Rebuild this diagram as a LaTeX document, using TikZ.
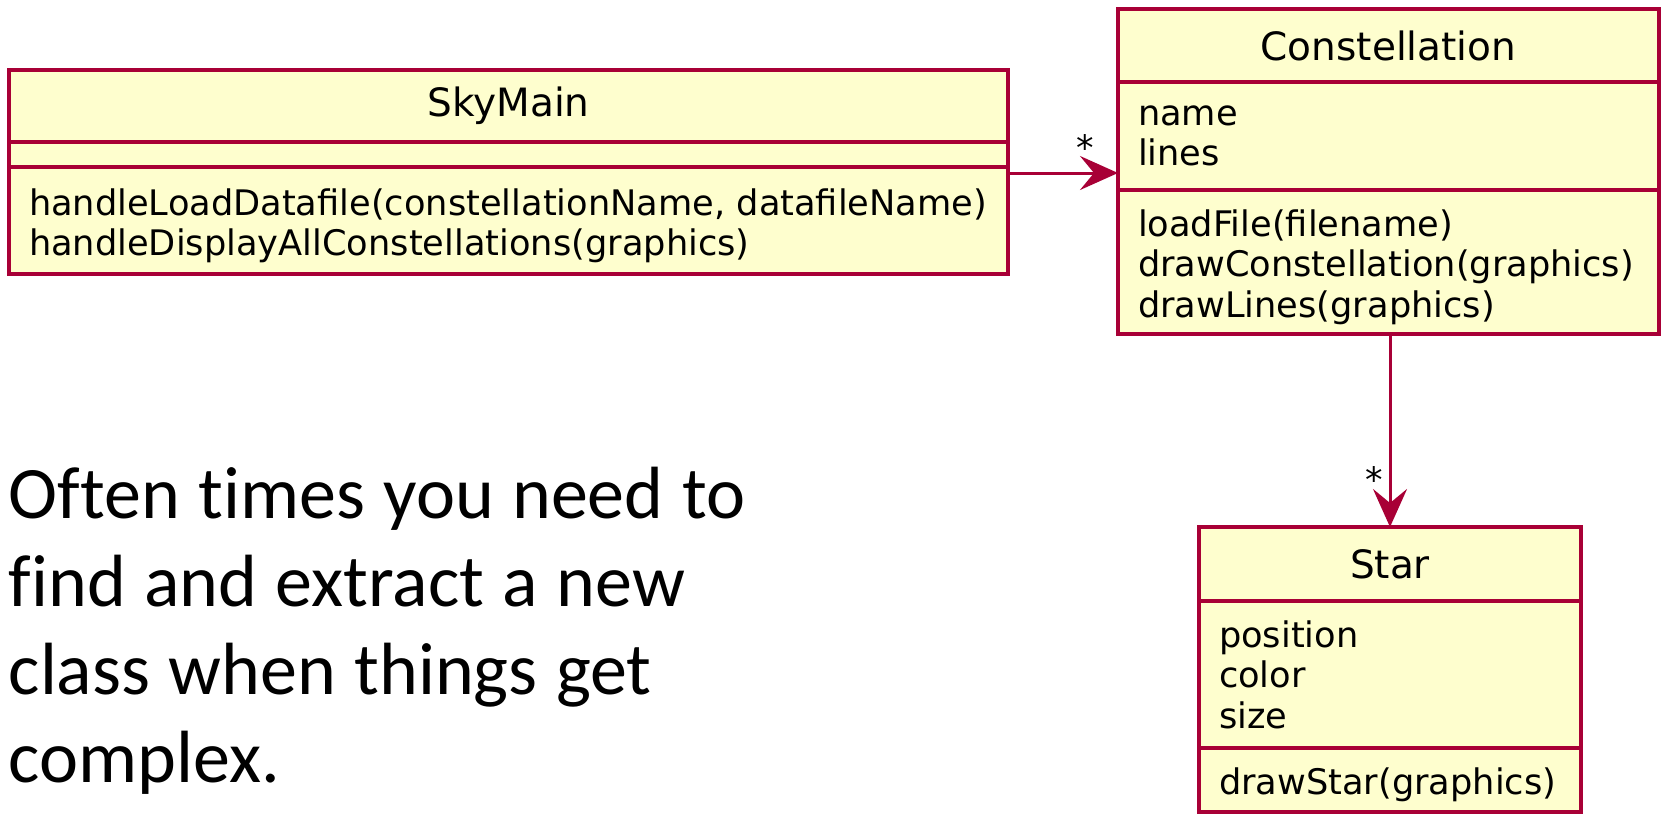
\documentclass[tikz,border=0pt]{standalone}
\usepackage{fontspec}
\usepackage{xcolor}
\usepackage{tikz}
\usetikzlibrary{arrows.meta}
\usetikzlibrary{positioning}
\newfontfamily\umlfont{DejaVu Sans}
\newfontfamily\notefont[Ligatures=CommonOff, WordSpace=1.1]{Carlito}
\definecolor{umlrot}{HTML}{A80036}
\definecolor{umlgelb}{HTML}{FEFECE}
\tikzset{
  Klasse/.style={draw=umlrot, fill=umlgelb, line width=3.5pt, outer sep=0pt,
    inner ysep=2pt, font=\umlfont\fontsize{35.2}{40.5}\selectfont}, % Rahmen einer Klasse
  Kopf/.style 2 args={Klasse, minimum width=#1, minimum height=#2,
    font=\umlfont\fontsize{39}{44}\selectfont}, % Klassenname
  Teil/.style 2 args={Klasse, text width=#1, minimum height=#2,
    inner xsep=20pt, align=flush left}, % Attribute / Methoden
  Meth/.style={execute at begin node={\rule{0pt}{37pt}}}, % Methoden etwas tiefer
  Pfeil/.style={draw=umlrot, line width=3pt,
    -{Stealth[length=38pt, width=34pt, inset=14pt]}}, % Assoziation
  Mult/.style={font=\umlfont\fontsize{35}{40}\selectfont, inner sep=0pt}, % Multiplizitaet
  Notiz/.style={font=\notefont\fontsize{74}{88}\selectfont, align=flush left,
    text width=800pt, inner sep=0pt}
}

\begin{document}
\begin{tikzpicture}[x=1pt, y=-1pt]
\useasboundingbox (0,0) rectangle (1661,814);

%Klassen
\node[Kopf={999pt}{72pt}, anchor=north west] (sky) at (9,70) {SkyMain};
\node[Teil={959pt}{25pt}, below=0pt of sky] (skyattr) {};
\node[Teil={959pt}{107pt}, Meth, below=0pt of skyattr] (skymeth)
  {handleLoadDatafile(constellationName, datafileName)\\
   handleDisplayAllConstellations(graphics)};

\node[Kopf={541pt}{73pt}, anchor=north west] (con) at (1118,9) {Constellation};
\node[Teil={501pt}{108pt}, below=0pt of con] (conattr) {name\\lines};
\node[Teil={501pt}{144pt}, Meth, below=0pt of conattr] (conmeth)
  {loadFile(filename)\\drawConstellation(graphics)\\drawLines(graphics)};

\node[Kopf={382pt}{74pt}, anchor=north west] (star) at (1199,527) {Star};
\node[Teil={342pt}{147pt}, below=0pt of star] (starattr) {position\\color\\size};
\node[Teil={342pt}{64pt}, Meth, below=0pt of starattr] (starmeth) {drawStar(graphics)};

%Pfeile
\coordinate (skyout) at ([yshift=-6pt]skymeth.north east);
\draw[Pfeil] (skyout) -- (skyout -| conattr.west)
  node[Mult, at end, xshift=-33pt, yshift=25pt] {*};
\draw[Pfeil] (star.north |- conmeth.south) -- (star.north)
  node[Mult, at end, xshift=-16pt, yshift=47pt] {*};

%Text
\node[Notiz, anchor=base west] (notiz) at (8.5,518)
  {Often times you need to\\find and extract a new\\class when things get\\complex.};

\end{tikzpicture}
\end{document}
